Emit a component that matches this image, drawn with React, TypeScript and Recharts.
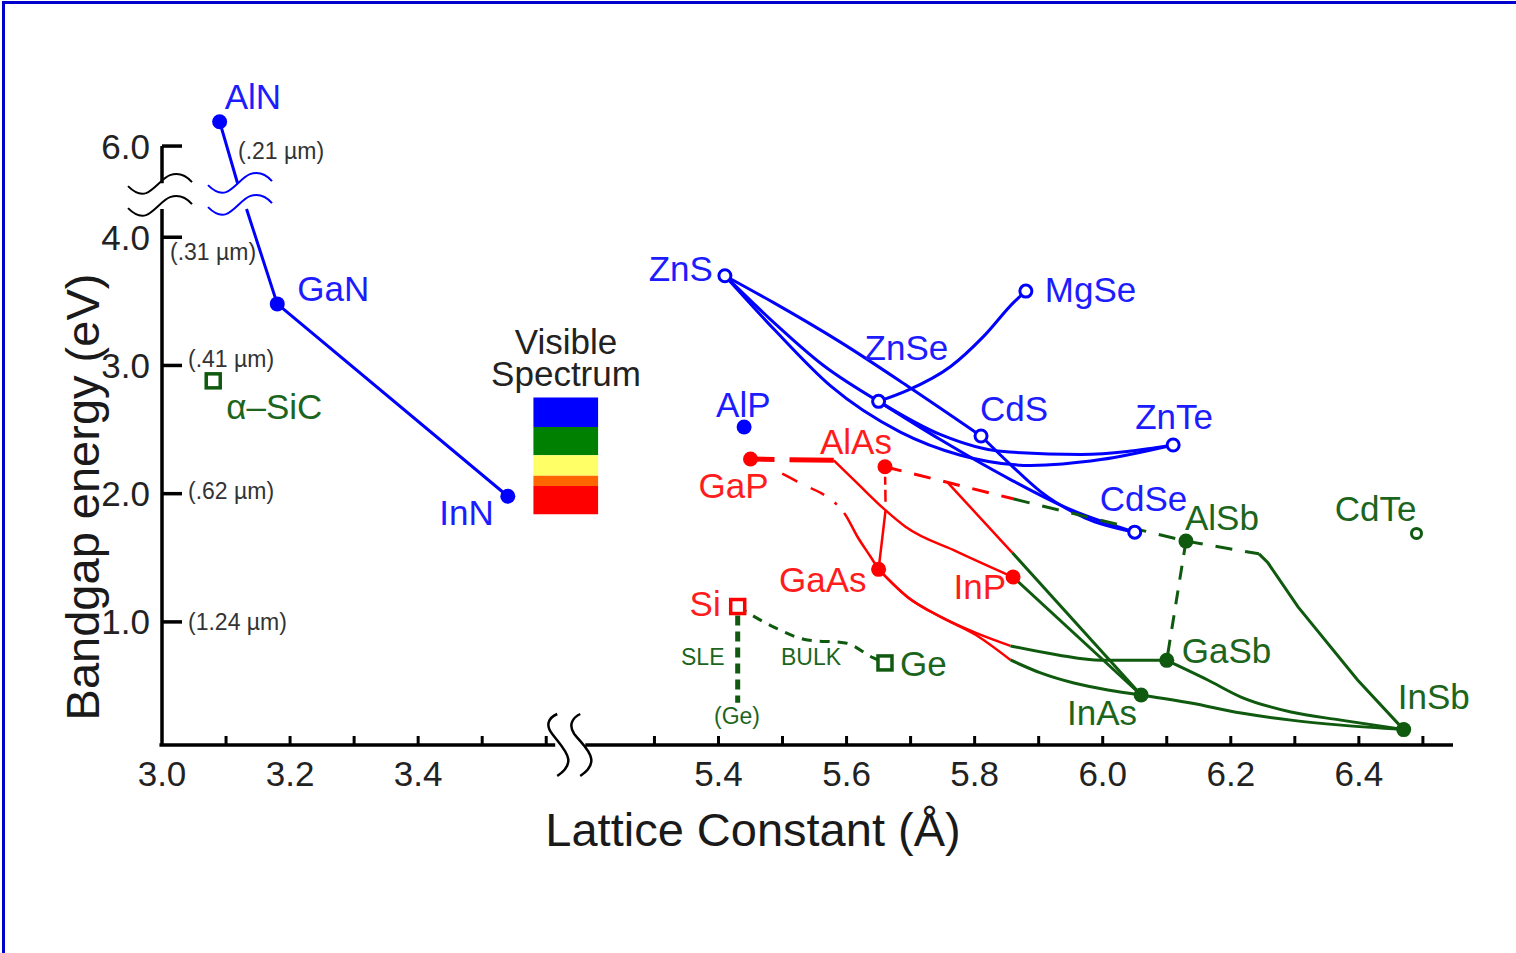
import React from 'react';
import {
  ComposedChart,
  Line,
  Scatter,
  XAxis,
  YAxis,
  ReferenceLine,
  ReferenceArea,
  ReferenceDot,
} from 'recharts';

type P = [number, number];

// ---------- broken-axis helpers (real value -> plotted value) ----------
const X_SHIFT = 1.531; // right-hand x segment (5.3 .. 6.5 Å) is drawn shifted left
const Y_SHIFT = 1.289; // energies above the y break (6 eV region) are drawn shifted down
const vx = (a: number) => (a > 4.5 ? a - X_SHIFT : a);
const vy = (e: number) => (e > 5 ? e - Y_SHIFT : e);
const rx = (v: number) => (v > 3.65 ? v + X_SHIFT : v);
const ry = (v: number) => (v > 4.5 ? v + Y_SHIFT : v);

const X_MIN = 3.0;
const X_MAX = 5.016;
const Y_MIN = 0.04;
const Y_MAX = 5.0;

// ---------- tick labels ----------
const xLabeled = [3.0, 3.2, 3.4, 5.4, 5.6, 5.8, 6.0, 6.2, 6.4];
const xMinor = [3.1, 3.3, 3.5, 3.6, 5.3, 5.5, 5.7, 5.9, 6.1, 6.3, 6.5];
const yTicksReal = [1.0, 2.0, 3.0, 4.0, 6.0];
const yWavelength = ['(1.24 µm)', '(.62 µm)', '(.41 µm)', '(.31 µm)', '(.21 µm)'];

// ---------- compounds (lattice constant Å, band gap eV) ----------
const nitrideNames = ['AlN', 'GaN', 'InN'];
const nitrideA = [3.09, 3.18, 3.54];
const nitrideEg = [6.19, 3.48, 1.98];

const iiviNames = ['ZnS', 'MgSe', 'ZnSe', 'CdS', 'ZnTe', 'CdSe'];
const iiviA = [5.41, 5.88, 5.65, 5.81, 6.11, 6.05];
const iiviEg = [3.70, 3.58, 2.72, 2.45, 2.38, 1.70];

const alpNames = ['AlP'];
const alpA = [5.44];
const alpEg = [2.52];

const redNames = ['GaP', 'AlAs', 'GaAs', 'InP'];
const redA = [5.45, 5.66, 5.65, 5.86];
const redEg = [2.27, 2.21, 1.41, 1.35];

const greenNames = ['AlSb', 'GaSb', 'InAs', 'InSb'];
const greenA = [6.13, 6.10, 6.06, 6.47];
const greenEg = [1.63, 0.70, 0.43, 0.16];

const siNames = ['Si'];
const siA = [5.43];
const siEg = [1.12];

const geNames = ['Ge', 'α–SiC'];
const geA = [5.66, 3.08];
const geEg = [0.68, 2.88];

const cdteNames = ['CdTe'];
const cdteA = [6.49];
const cdteEg = [1.69];

// ---------- visible spectrum bands (eV) ----------
const visibleTop = [2.75, 2.52, 2.30, 2.14, 2.06];
const visibleBottom = [2.52, 2.30, 2.14, 2.06, 1.84];
const visibleColors = ['#0000ff', '#008000', '#ffff66', '#ff6600', '#ff0000'];

// ---------- alloy curves (real coordinates) ----------
const AlN_GaN_top: P[] = [[3.09, 6.19], [3.118, 5.71]];
const AlN_GaN_InN: P[] = [[3.132, 4.22], [3.18, 3.48], [3.54, 1.98]];

const ZnS_CdS: P[] = [[5.41, 3.70], [5.486, 3.49], [5.591, 3.18], [5.695, 2.84], [5.81, 2.45]];
const ZnS_ZnSe: P[] = [[5.41, 3.70], [5.481, 3.36], [5.564, 3.0], [5.65, 2.72]];
const ZnS_ZnTe: P[] = [[5.41, 3.70], [5.489, 3.27], [5.575, 2.84], [5.684, 2.48], [5.778, 2.30], [5.888, 2.22], [5.997, 2.266], [6.11, 2.38]];
const ZnSe_ZnTe: P[] = [[5.65, 2.72], [5.747, 2.46], [5.841, 2.33], [5.966, 2.305], [6.11, 2.38]];
const ZnSe_CdSe: P[] = [[5.65, 2.72], [5.747, 2.42], [5.856, 2.11], [5.95, 1.875], [6.05, 1.70]];
const CdS_CdSe: P[] = [[5.81, 2.45], [5.856, 2.227], [5.903, 2.016], [5.973, 1.81], [6.05, 1.70]];
const ZnSe_MgSe: P[] = [[5.65, 2.72], [5.695, 2.805], [5.7625, 2.992], [5.814, 3.227], [5.861, 3.492], [5.88, 3.58]];

const GaP_indirect: P[] = [[5.45, 2.27], [5.58, 2.26]];
const GaInP_direct: P[] = [[5.58, 2.26], [5.619, 2.07], [5.658, 1.883], [5.692, 1.742], [5.773, 1.547], [5.86, 1.35]];
const GaP_GaAs: P[] = [[5.45, 2.27], [5.523, 2.094], [5.597, 1.844], [5.617, 1.664], [5.6375, 1.508], [5.65, 1.41]];
const AlAs_GaAs: P[] = [[5.66, 2.21], [5.661, 1.875], [5.65, 1.41]];
const AlAs_AlSb_red: P[] = [[5.66, 2.21], [5.86, 1.96]];
const AlAs_AlSb_green: P[] = [[5.86, 1.96], [6.13, 1.63]];
const AlInAs_red: P[] = [[5.758, 2.086], [5.859, 1.539]];
const AlInAs_green: P[] = [[5.859, 1.539], [6.06, 0.43]];
const InP_InAs: P[] = [[5.86, 1.35], [6.06, 0.43]];
const GaAs_GaSb_red: P[] = [[5.65, 1.41], [5.695, 1.195], [5.747, 1.039], [5.802, 0.914], [5.856, 0.8125]];
const GaAs_GaSb_green: P[] = [[5.856, 0.8125], [5.93, 0.742], [5.997, 0.70], [6.10, 0.70]];
const GaAs_InAs_red: P[] = [[5.65, 1.41], [5.695, 1.195], [5.747, 1.039], [5.802, 0.898], [5.856, 0.703]];
const GaAs_InAs_green: P[] = [[5.856, 0.703], [5.903, 0.602], [5.955, 0.523], [6.008, 0.469], [6.06, 0.43]];
const InAs_InSb: P[] = [[6.06, 0.43], [6.1375, 0.367], [6.216, 0.289], [6.294, 0.234], [6.372, 0.195], [6.47, 0.16]];
const GaSb_InSb: P[] = [[6.10, 0.70], [6.164, 0.547], [6.216, 0.414], [6.294, 0.297], [6.372, 0.234], [6.47, 0.16]];
const AlSb_indirect: P[] = [[6.13, 1.63], [6.244, 1.531]];
const AlInSb_direct: P[] = [[6.244, 1.531], [6.258, 1.461], [6.305, 1.117], [6.398, 0.547], [6.47, 0.16]];
const AlSb_GaSb: P[] = [[6.13, 1.63], [6.10, 0.70]];
const Si_Ge_bulk: P[] = [[5.43, 1.12], [5.489, 0.953], [5.539, 0.859], [5.598, 0.836], [5.642, 0.719], [5.66, 0.68]];
const Si_Ge_sle: P[] = [[5.43, 1.05], [5.43, 0.37]];

// ---------- styles ----------
const FONT = '"Liberation Sans", Arial, Helvetica, sans-serif';
const BLUE = '#0000ff';
const RED = '#ff0000';
const GREEN = '#0f5a0f';
const BLUE_T = '#1c1cff';
const RED_T = '#ff1c1c';
const GREEN_T = '#1c651c';

type Curve = { pts: P[]; color: string; width: number; dash?: string; type?: 'monotone' | 'linear' };
const curves: Curve[] = [
  { pts: AlN_GaN_top, color: BLUE, width: 3, type: 'linear' },
  { pts: AlN_GaN_InN, color: BLUE, width: 3, type: 'linear' },
  { pts: ZnS_CdS, color: BLUE, width: 3 },
  { pts: ZnS_ZnSe, color: BLUE, width: 3 },
  { pts: ZnS_ZnTe, color: BLUE, width: 3 },
  { pts: ZnSe_ZnTe, color: BLUE, width: 3 },
  { pts: ZnSe_CdSe, color: BLUE, width: 3 },
  { pts: CdS_CdSe, color: BLUE, width: 3 },
  { pts: ZnSe_MgSe, color: BLUE, width: 3 },
  { pts: GaP_indirect, color: RED, width: 5, dash: '24 15 60', type: 'linear' },
  { pts: GaInP_direct, color: RED, width: 2.5 },
  { pts: GaP_GaAs, color: RED, width: 2.5, dash: '0 35 17 15 15 13 3 11 2000' },
  { pts: AlAs_GaAs, color: RED, width: 2.5, dash: '0 10 8 5 12 8 2000', type: 'linear' },
  { pts: AlAs_AlSb_red, color: RED, width: 3, dash: '17 13', type: 'linear' },
  { pts: AlAs_AlSb_green, color: GREEN, width: 3, dash: '17 13', type: 'linear' },
  { pts: AlInAs_red, color: RED, width: 2.5, type: 'linear' },
  { pts: AlInAs_green, color: GREEN, width: 3, type: 'linear' },
  { pts: InP_InAs, color: GREEN, width: 3, type: 'linear' },
  { pts: GaAs_GaSb_red, color: RED, width: 2.5 },
  { pts: GaAs_GaSb_green, color: GREEN, width: 3 },
  { pts: GaAs_InAs_red, color: RED, width: 2.5 },
  { pts: GaAs_InAs_green, color: GREEN, width: 3 },
  { pts: InAs_InSb, color: GREEN, width: 3 },
  { pts: GaSb_InSb, color: GREEN, width: 3 },
  { pts: AlSb_indirect, color: GREEN, width: 3, dash: '17 13', type: 'linear' },
  { pts: AlInSb_direct, color: GREEN, width: 3, type: 'linear' },
  { pts: AlSb_GaSb, color: GREEN, width: 3, dash: '14 11', type: 'linear' },
  { pts: Si_Ge_bulk, color: GREEN, width: 3, dash: '10 8' },
  { pts: Si_Ge_sle, color: GREEN, width: 5, dash: '10 6', type: 'linear' },
];

// label placement relative to the marker: [dx, dy, anchor]
const LABEL_POS: Record<string, [number, number, string]> = {
  AlN: [5, -25, 'start'],
  GaN: [20, -15, 'start'],
  InN: [-14, 16, 'end'],
  'α–SiC': [13, 26, 'start'],
  ZnS: [-12, -7, 'end'],
  MgSe: [19, -2, 'start'],
  ZnSe: [-14, -54, 'start'],
  CdS: [-1, -27, 'start'],
  ZnTe: [-38, -28, 'start'],
  CdSe: [-35, -34, 'start'],
  AlP: [-28, -23, 'start'],
  AlAs: [-65, -25, 'start'],
  GaP: [-52, 26, 'start'],
  GaAs: [-12, 10, 'end'],
  InP: [-7, 9, 'end'],
  Si: [-17, -3, 'end'],
  Ge: [15, 1, 'start'],
  AlSb: [-1, -24, 'start'],
  GaSb: [15, -10, 'start'],
  InAs: [-4, 18, 'end'],
  InSb: [-6, -33, 'start'],
  CdTe: [0, -25, 'end'],
};

type Pt = { x: number; y: number; name: string; kind: string; color: string; tcolor: string };
const mk = (names: string[], a: number[], e: number[], kind: string, color: string, tcolor: string): Pt[] =>
  names.map((n, i) => ({ x: vx(a[i]), y: vy(e[i]), name: n, kind, color, tcolor }));

const points: Pt[] = [
  ...mk(nitrideNames, nitrideA, nitrideEg, 'filled', BLUE, BLUE_T),
  ...mk(iiviNames, iiviA, iiviEg, 'open', BLUE, BLUE_T),
  ...mk(alpNames, alpA, alpEg, 'filled', BLUE, BLUE_T),
  ...mk(redNames, redA, redEg, 'filled', RED, RED_T),
  ...mk(greenNames, greenA, greenEg, 'filled', GREEN, GREEN_T),
  ...mk(siNames, siA, siEg, 'square', RED, RED_T),
  ...mk(geNames, geA, geEg, 'square', GREEN, GREEN_T),
  ...mk(cdteNames, cdteA, cdteEg, 'openSmall', GREEN, GREEN_T),
];

const toData = (pts: P[]) => pts.map(([a, e]) => ({ x: vx(a), y: vy(e) }));

const xTicks = [...xLabeled, ...xMinor].sort((p, q) => p - q).map(vx);
const yTicks = yTicksReal.map(vy);

const WL_POS: Record<string, [number, number]> = {
  '1.0': [26, 0],
  '2.0': [26, -3],
  '3.0': [26, -6],
  '4.0': [8, 15],
  '6.0': [76, 5],
};

const XTick = (props: any) => {
  const { x, y, payload } = props;
  const real = rx(payload.value);
  const labeled = xLabeled.some((v) => Math.abs(v - real) < 1e-6);
  const isOrigin = Math.abs(real - 3.0) < 1e-6;
  return (
    <g>
      {!isOrigin && <line x1={x} x2={x} y1={y} y2={y - 9} stroke="#000" strokeWidth={3} />}
      {labeled && (
        <text x={x} y={y + 41} textAnchor="middle" fontSize={35} fill="#222" fontFamily={FONT}>
          {real.toFixed(1)}
        </text>
      )}
    </g>
  );
};

const YTick = (props: any) => {
  const { x, y, payload } = props;
  const real = ry(payload.value);
  const key = real.toFixed(1);
  const idx = yTicksReal.findIndex((v) => Math.abs(v - real) < 1e-6);
  const wl = WL_POS[key];
  return (
    <g>
      <line x1={x} x2={x + 20} y1={y} y2={y} stroke="#000" strokeWidth={3.5} />
      <text x={x - 12} y={y + 12.5} textAnchor="end" fontSize={35} fill="#222" fontFamily={FONT}>
        {key}
      </text>
      {idx >= 0 && wl && (
        <text x={x + wl[0]} y={y + wl[1] + 8} fontSize={23} fill="#333" fontFamily={FONT}>
          {yWavelength[idx]}
        </text>
      )}
    </g>
  );
};

const renderPoint = (props: any) => {
  const { cx, cy, payload } = props;
  const p = payload as Pt;
  const lp = LABEL_POS[p.name] || [10, 0, 'start'];
  let marker: React.ReactNode;
  if (p.kind === 'filled') marker = <circle cx={cx} cy={cy} r={7.5} fill={p.color} />;
  else if (p.kind === 'open') marker = <circle cx={cx} cy={cy} r={6} fill="#fff" stroke={p.color} strokeWidth={3} />;
  else if (p.kind === 'openSmall') marker = <circle cx={cx} cy={cy} r={5} fill="#fff" stroke={p.color} strokeWidth={3} />;
  else marker = <rect x={cx - 7} y={cy - 7} width={14} height={14} fill="#fff" stroke={p.color} strokeWidth={3.5} />;
  return (
    <g>
      {marker}
      <text
        x={cx + lp[0]}
        y={cy + lp[1]}
        textAnchor={lp[2] as any}
        dominantBaseline="central"
        fontSize={35}
        fill={p.tcolor}
        fontFamily={FONT}
      >
        {p.name}
      </text>
    </g>
  );
};

const WAVE = 'M-34,-9 C-28,-3 -22,0 -16,-2 C-8,-5 0,-17 8,-20 C14,-22 22,-22 30,-13';
const YBreak = (props: any) => {
  const { cx, cy } = props;
  return (
    <g fill="none" strokeWidth={2}>
      <path d={WAVE} transform={`translate(${cx},${cy})`} stroke="#000" />
      <path d={WAVE} transform={`translate(${cx},${cy + 22})`} stroke="#000" />
      <path d={WAVE} transform={`translate(${cx + 80},${cy - 1})`} stroke={BLUE} />
      <path d={WAVE} transform={`translate(${cx + 80},${cy + 21})`} stroke={BLUE} />
    </g>
  );
};

const S1 = 'M-13,-31 C-22,-27 -25,-20 -18,-11 C-12,-3 -3,6 -2,14 C-1,22 -7,27 -13,31';
const S2 = 'M10,-31 C2,-27 -2,-20 4,-11 C10,-3 20,5 21,14 C22,22 16,27 10,31';
const XBreak = (props: any) => {
  const { cx, cy } = props;
  return (
    <g fill="none" stroke="#000" strokeWidth={2.5} transform={`translate(${cx},${cy})`}>
      <path d={S1} />
      <path d={S2} />
    </g>
  );
};

const W = 1516;
const H = 953;

export default function App() {
  return (
    <div
      style={{
        position: 'absolute',
        left: 0,
        top: 0,
        width: W,
        height: H,
        background: '#fff',
        overflow: 'hidden',
        fontFamily: FONT,
      }}
    >
      <div
        style={{
          position: 'absolute',
          left: 2,
          top: 1,
          width: W + 20,
          height: H + 20,
          borderLeft: '3px solid #0000cc',
          borderTop: '3px solid #0000cc',
        }}
      />
      <div style={{ position: 'absolute', left: 0, top: 0 }}>
        <ComposedChart width={W} height={H} margin={{ top: 109, right: 63, bottom: 168, left: 102 }}>
          <XAxis
            type="number"
            dataKey="x"
            domain={[X_MIN, X_MAX]}
            ticks={xTicks}
            interval={0}
            tick={XTick}
            tickLine={false}
            axisLine={false}
            tickSize={0}
            tickMargin={0}
            height={40}
          />
          <YAxis
            type="number"
            dataKey="y"
            domain={[Y_MIN, Y_MAX]}
            ticks={yTicks}
            interval={0}
            tick={YTick}
            tickLine={false}
            axisLine={false}
            tickSize={0}
            tickMargin={0}
            width={60}
          />
          {visibleColors.map((c, i) => (
            <ReferenceArea
              key={'vis' + i}
              x1={3.58}
              x2={3.681}
              y1={visibleBottom[i]}
              y2={visibleTop[i]}
              fill={c}
              fillOpacity={1}
              stroke="none"
              ifOverflow="visible"
            />
          ))}
          {/* axis lines with breaks */}
          <ReferenceLine segment={[{ x: X_MIN, y: Y_MIN }, { x: X_MIN, y: 4.22 }]} stroke="#000" strokeWidth={3.5} ifOverflow="visible" />
          <ReferenceLine segment={[{ x: X_MIN, y: vy(5.71) }, { x: X_MIN, y: vy(6.0) }]} stroke="#000" strokeWidth={3.5} ifOverflow="visible" />
          <ReferenceLine segment={[{ x: X_MIN - 0.004, y: Y_MIN }, { x: 3.614, y: Y_MIN }]} stroke="#000" strokeWidth={3.5} ifOverflow="visible" />
          <ReferenceLine segment={[{ x: vx(5.192), y: Y_MIN }, { x: X_MAX, y: Y_MIN }]} stroke="#000" strokeWidth={3.5} ifOverflow="visible" />
          <ReferenceDot x={X_MIN} y={4.328} r={1} shape={YBreak} ifOverflow="visible" />
          <ReferenceDot x={3.6375} y={Y_MIN} r={1} shape={XBreak} ifOverflow="visible" />
          {curves.map((c, i) => (
            <Line
              key={'c' + i}
              data={toData(c.pts)}
              dataKey="y"
              type={c.type ?? 'monotone'}
              stroke={c.color}
              strokeWidth={c.width}
              strokeDasharray={c.dash}
              dot={false}
              activeDot={false}
              isAnimationActive={false}
              legendType="none"
            />
          ))}
          <Scatter data={points} dataKey="y" shape={renderPoint} isAnimationActive={false} legendType="none" />
        </ComposedChart>
      </div>
      <svg
        width={W}
        height={H}
        style={{ position: 'absolute', left: 0, top: 0, pointerEvents: 'none' }}
        fontFamily={FONT}
      >
        <text transform="translate(99,497) rotate(-90)" textAnchor="middle" fontSize={47} fill="#1a1a1a">
          Bandgap energy (eV)
        </text>
        <text x={753} y={846} textAnchor="middle" fontSize={47} fill="#1a1a1a">
          Lattice Constant (Å)
        </text>
        <text x={566} y={354} textAnchor="middle" fontSize={35} fill="#222">
          Visible
        </text>
        <text x={566} y={386} textAnchor="middle" fontSize={35} fill="#222">
          Spectrum
        </text>
        <text x={681} y={665} fontSize={23} fill={GREEN_T}>SLE</text>
        <text x={781} y={665} fontSize={23} fill={GREEN_T}>BULK</text>
        <text x={737} y={724} textAnchor="middle" fontSize={23} fill={GREEN_T}>(Ge)</text>
      </svg>
    </div>
  );
}
